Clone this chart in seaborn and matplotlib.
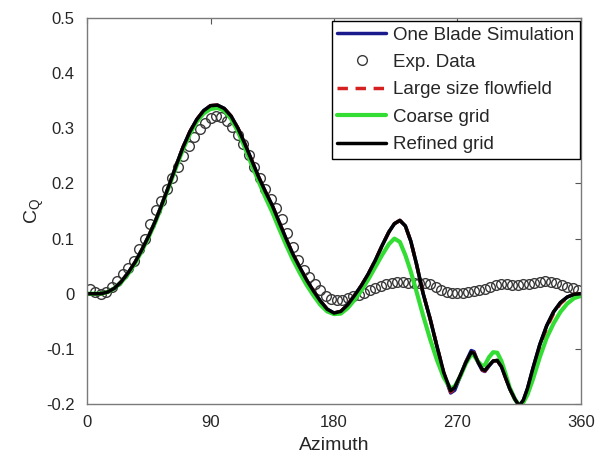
import numpy as np
import pandas as pd
import matplotlib
matplotlib.use("Agg")
import matplotlib.pyplot as plt
import seaborn as sns

# simulation azimuth grid (deg)
sim_azimuth = [0, 5, 10, 15, 20, 25, 30, 35, 40, 45, 50, 55, 60, 65, 70, 75, 80, 85, 90, 95,
               100, 105, 110, 115, 120, 125, 130, 135, 140, 145, 150, 155, 160, 165, 170, 175,
               180, 185, 190, 195, 200, 205, 210, 215, 220, 224, 228, 232, 236, 240, 245, 250,
               255, 260, 265, 268, 272, 276, 280, 282, 285, 288, 290, 293, 296, 299, 302, 305,
               308, 312, 315, 318, 321, 325, 330, 335, 340, 345, 350, 355, 360]

refined_grid = [0.0, 0.0, 0.0, 0.003, 0.01, 0.022, 0.038, 0.057, 0.08, 0.105, 0.133, 0.165,
                0.198, 0.233, 0.266, 0.294, 0.316, 0.332, 0.341, 0.342, 0.336, 0.322, 0.30,
                0.272, 0.242, 0.212, 0.185, 0.16, 0.13, 0.10, 0.072, 0.048, 0.025, 0.005,
                -0.013, -0.028, -0.035, -0.032, -0.02, -0.003, 0.015, 0.036, 0.06, 0.087,
                0.112, 0.127, 0.133, 0.123, 0.095, 0.055, 0.0, -0.045, -0.095, -0.143, -0.176,
                -0.17, -0.148, -0.125, -0.106, -0.108, -0.124, -0.137, -0.139, -0.13, -0.122,
                -0.121, -0.132, -0.152, -0.172, -0.192, -0.203, -0.193, -0.172, -0.135, -0.092,
                -0.058, -0.033, -0.016, -0.006, -0.001, 0.0]

one_blade = [0.0, 0.0, 0.0, 0.003, 0.01, 0.022, 0.038, 0.057, 0.08, 0.105, 0.133, 0.165,
             0.198, 0.233, 0.266, 0.294, 0.316, 0.332, 0.341, 0.342, 0.336, 0.322, 0.30,
             0.272, 0.242, 0.212, 0.185, 0.16, 0.13, 0.10, 0.072, 0.048, 0.025, 0.005,
             -0.013, -0.028, -0.035, -0.032, -0.02, -0.003, 0.015, 0.036, 0.06, 0.087,
             0.112, 0.127, 0.133, 0.123, 0.095, 0.055, 0.0, -0.045, -0.095, -0.145, -0.180,
             -0.175, -0.150, -0.124, -0.103, -0.105, -0.125, -0.139, -0.141, -0.131, -0.122,
             -0.121, -0.132, -0.152, -0.172, -0.192, -0.203, -0.193, -0.172, -0.135, -0.092,
             -0.058, -0.033, -0.016, -0.006, -0.001, 0.0]

large_flowfield = [0.0, 0.0, 0.0, 0.003, 0.01, 0.022, 0.038, 0.057, 0.08, 0.105, 0.133, 0.165,
                   0.198, 0.233, 0.266, 0.294, 0.316, 0.332, 0.341, 0.342, 0.336, 0.322, 0.30,
                   0.272, 0.242, 0.212, 0.185, 0.16, 0.13, 0.10, 0.072, 0.048, 0.025, 0.005,
                   -0.013, -0.028, -0.035, -0.032, -0.02, -0.003, 0.015, 0.036, 0.06, 0.087,
                   0.112, 0.127, 0.133, 0.123, 0.095, 0.055, 0.0, -0.045, -0.095, -0.144, -0.178,
                   -0.172, -0.149, -0.125, -0.105, -0.107, -0.124, -0.138, -0.140, -0.13, -0.122,
                   -0.121, -0.132, -0.152, -0.172, -0.193, -0.204, -0.196, -0.177, -0.140, -0.098,
                   -0.062, -0.036, -0.018, -0.007, -0.001, 0.0]

coarse_grid = [0.0, 0.0, 0.0, 0.003, 0.01, 0.021, 0.036, 0.055, 0.078, 0.103, 0.131, 0.163,
               0.196, 0.23, 0.262, 0.29, 0.312, 0.327, 0.335, 0.337, 0.332, 0.317, 0.294,
               0.265, 0.234, 0.204, 0.175, 0.148, 0.118, 0.089, 0.062, 0.038, 0.016, -0.003,
               -0.02, -0.032, -0.037, -0.036, -0.026, -0.011, 0.006, 0.026, 0.048, 0.07,
               0.09, 0.1, 0.094, 0.07, 0.04, 0.005, -0.04, -0.082, -0.12, -0.152, -0.172,
               -0.168, -0.15, -0.127, -0.11, -0.112, -0.123, -0.131, -0.129, -0.115, -0.106,
               -0.107, -0.122, -0.145, -0.17, -0.192, -0.202, -0.197, -0.183, -0.155, -0.115,
               -0.08, -0.054, -0.033, -0.018, -0.008, -0.004]

# experimental data
exp_azimuth = list(range(2, 360, 4))
exp_cq = [0.008, 0.003, 0.0, 0.004, 0.012, 0.023, 0.035, 0.047, 0.06, 0.082, 0.10, 0.127,
          0.152, 0.168, 0.19, 0.21, 0.23, 0.25, 0.268, 0.285, 0.298, 0.31, 0.318, 0.322,
          0.32, 0.313, 0.302, 0.288, 0.272, 0.252, 0.23, 0.21, 0.19, 0.172, 0.155, 0.135,
          0.11, 0.085, 0.062, 0.043, 0.03, 0.018, 0.006, -0.004, -0.01, -0.012, -0.011,
          -0.008, -0.005, -0.002, 0.002, 0.006, 0.01, 0.014, 0.017, 0.019, 0.021, 0.021,
          0.02, 0.019, 0.019, 0.019, 0.017, 0.012, 0.007, 0.004, 0.002, 0.001, 0.002, 0.003,
          0.005, 0.006, 0.009, 0.012, 0.015, 0.017, 0.017, 0.016, 0.016, 0.017, 0.018, 0.02,
          0.022, 0.023, 0.022, 0.02, 0.016, 0.013, 0.01, 0.006]

x_ticks = [0, 90, 180, 270, 360]
y_ticks = [-0.2, -0.1, 0, 0.1, 0.2, 0.3, 0.4, 0.5]


def main():
    sns.set_theme(style="white")
    plt.rcParams["font.family"] = ["Liberation Sans", "DejaVu Sans"]
    plt.rcParams["mathtext.default"] = "regular"

    fig = plt.figure(figsize=(6.01, 4.62), dpi=100)
    ax = fig.add_axes([0.1448, 0.1255, 0.8219, 0.8355])

    kw = dict(ax=ax, sort=False, estimator=None)
    sns.lineplot(x=sim_azimuth, y=one_blade, color="#1a1a8c", lw=2.5,
                 label="One Blade Simulation", **kw)
    sns.lineplot(x=exp_azimuth, y=exp_cq, color="k", linestyle="", marker="o",
                 markersize=7, markerfacecolor="none", markeredgecolor="#3a3a3a",
                 markeredgewidth=1.0, label="Exp. Data", **kw)
    sns.lineplot(x=sim_azimuth, y=large_flowfield, color="#d62020", lw=2.5,
                 dashes=False, label="Large size flowfield", **kw)
    ax.lines[-1].set_linestyle((0, (3, 2.2)))
    sns.lineplot(x=sim_azimuth, y=coarse_grid, color="#33dd33", lw=3,
                 label="Coarse grid", **kw)
    sns.lineplot(x=sim_azimuth, y=refined_grid, color="black", lw=2.5,
                 label="Refined grid", **kw)

    ax.set_xlim(0, 360)
    ax.set_ylim(-0.2, 0.5)
    ax.set_xticks(x_ticks)
    ax.set_yticks(y_ticks)
    ax.set_yticklabels(["-0.2", "-0.1", "0", "0.1", "0.2", "0.3", "0.4", "0.5"])
    ax.tick_params(direction="in", length=4, width=0.8, top=True, right=True,
                   labelsize=12, colors="#555555", labelcolor="#262626")
    ax.tick_params(axis="x", pad=8)
    ax.tick_params(axis="y", pad=9)
    for s in ax.spines.values():
        s.set_color("#7a7a7a")
        s.set_linewidth(1.0)
    ax.set_xlabel("Azimuth", fontsize=14, color="#262626", labelpad=5)
    ax.set_ylabel("C$_Q$", fontsize=14, color="#262626", labelpad=0)

    leg = ax.legend(loc="upper right", bbox_to_anchor=(1.003, 1.0), borderaxespad=0.15,
                    fontsize=13.5, frameon=True, fancybox=False, framealpha=1,
                    handlelength=2.6, handletextpad=0.35, labelspacing=0.55,
                    borderpad=0.3)
    leg.get_frame().set_edgecolor("black")
    leg.get_frame().set_linewidth(1.0)

    fig.savefig("out.png", dpi=100)


if __name__ == "__main__":
    main()
